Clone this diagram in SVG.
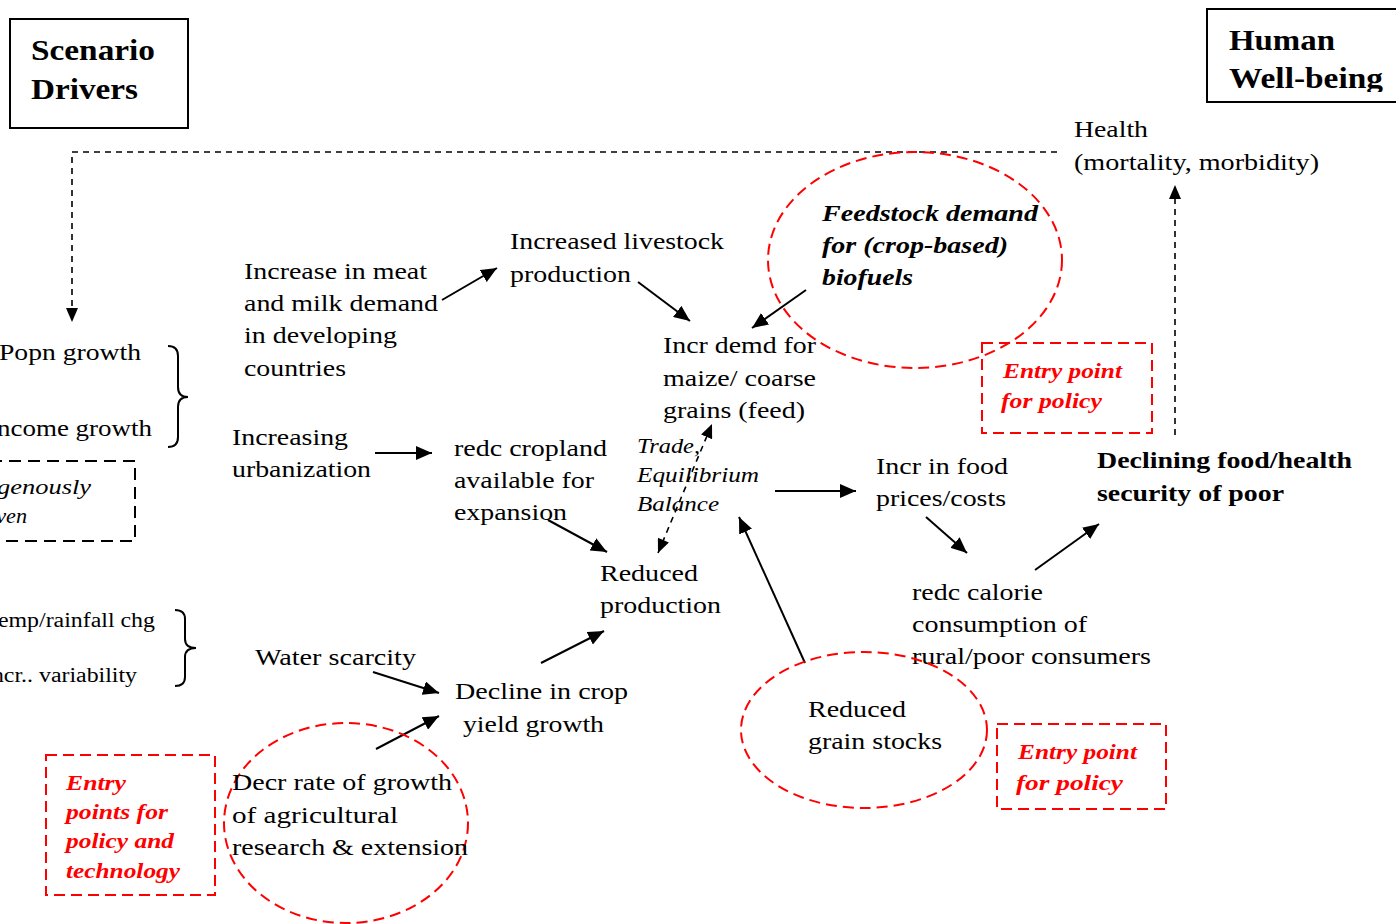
<svg xmlns="http://www.w3.org/2000/svg" width="1396" height="924" viewBox="0 0 1396 924">
<style>
text{font-family:"Liberation Serif","Times New Roman",serif;fill:#000}
.b{font-size:24px}
.h{font-size:29px;font-weight:bold}
.bb{font-size:24px;font-weight:bold}
.fi{font-size:24px;font-weight:bold;font-style:italic}
.ti{font-size:21px;font-style:italic}
.ri{font-size:22px;font-weight:bold;font-style:italic;fill:#ff0000}
.sm{font-size:20px}
.ei{font-size:20px;font-style:italic}
.frame{fill:none;stroke:#000;stroke-width:2}
.rd{fill:none;stroke:#ff0000;stroke-width:2;stroke-dasharray:11 6}
.kd{fill:none;stroke:#000;stroke-width:2;stroke-dasharray:12 7}
.c{fill:none;stroke:#000;stroke-width:2;marker-end:url(#ah)}
.cd{fill:none;stroke:#000;stroke-width:1.6;stroke-dasharray:6 5;marker-end:url(#ahs)}
.br{fill:none;stroke:#000;stroke-width:2}
</style>
<defs>
<marker id="ah" markerUnits="userSpaceOnUse" markerWidth="18" markerHeight="14" refX="16" refY="7" orient="auto"><path d="M0,0 L16,7 L0,14 Z" fill="#000"/></marker>
<marker id="ahs" markerUnits="userSpaceOnUse" markerWidth="16" markerHeight="12" refX="14" refY="6" orient="auto"><path d="M0,0 L14,6 L0,12 Z" fill="#000"/></marker>
<marker id="ahsr" markerUnits="userSpaceOnUse" markerWidth="16" markerHeight="12" refX="0" refY="6" orient="auto"><path d="M14,0 L0,6 L14,12 Z" fill="#000"/></marker>
<clipPath id="hwclip"><rect x="1207" y="9" width="189" height="83"/></clipPath>
</defs>
<rect width="1396" height="924" fill="#fff"/>

<g id="connectors">
<path class="c" d="M442,300 L497,268"/>
<path class="c" d="M638,282 L690,321"/>
<path class="c" d="M806,290 L752,328"/>
<path class="c" d="M375,453 L432,453"/>
<path class="c" d="M548,520 L607,552"/>
<path class="c" d="M541,663 L604,631"/>
<path class="c" d="M373,672 L439,693"/>
<path class="c" d="M376,749 L439,716"/>
<path class="c" d="M805,663 L739,517"/>
<path class="c" d="M775,491 L856,491"/>
<path class="c" d="M926,517 L967,553"/>
<path class="c" d="M1035,570 L1099,524"/>
<path class="cd" d="M1175,435 L1175,185"/>
<path class="cd" d="M1057,152 L72,152 L72,322"/>
<path class="cd" d="M658,553 L712,424" style="marker-start:url(#ahsr)"/>
</g>

<g id="scenario-drivers">
<rect class="frame" x="10" y="19" width="178" height="109"/>
<text class="h" x="31" y="60" textLength="124" lengthAdjust="spacingAndGlyphs">Scenario</text>
<text class="h" x="31" y="99" textLength="107" lengthAdjust="spacingAndGlyphs">Drivers</text>
</g>

<g id="human-wellbeing">
<rect class="frame" x="1207" y="9" width="200" height="93"/>
<text class="h" x="1229" y="50" textLength="106" lengthAdjust="spacingAndGlyphs">Human</text>
<text class="h" x="1229" y="88" textLength="154" lengthAdjust="spacingAndGlyphs" clip-path="url(#hwclip)">Well-being</text>
</g>

<g id="health">
<text class="b" x="1074" y="137" textLength="74" lengthAdjust="spacingAndGlyphs">Health</text>
<text class="b" x="1074" y="170" textLength="245" lengthAdjust="spacingAndGlyphs">(mortality, morbidity)</text>
</g>

<g id="meat-milk">
<text class="b" x="244" y="279" textLength="183" lengthAdjust="spacingAndGlyphs">Increase in meat</text>
<text class="b" x="244" y="311" textLength="194" lengthAdjust="spacingAndGlyphs">and milk demand</text>
<text class="b" x="244" y="343" textLength="153" lengthAdjust="spacingAndGlyphs">in developing</text>
<text class="b" x="244" y="376" textLength="102" lengthAdjust="spacingAndGlyphs">countries</text>
</g>

<g id="livestock">
<text class="b" x="510" y="249" textLength="214" lengthAdjust="spacingAndGlyphs">Increased livestock</text>
<text class="b" x="510" y="282" textLength="121" lengthAdjust="spacingAndGlyphs">production</text>
</g>

<g id="feedstock">
<ellipse class="rd" cx="915" cy="260" rx="147" ry="108"/>
<text class="fi" x="822" y="221" textLength="216" lengthAdjust="spacingAndGlyphs">Feedstock demand</text>
<text class="fi" x="822" y="253" textLength="186" lengthAdjust="spacingAndGlyphs">for (crop-based)</text>
<text class="fi" x="822" y="285" textLength="91" lengthAdjust="spacingAndGlyphs">biofuels</text>
</g>

<g id="incr-demd">
<text class="b" x="663" y="353" textLength="153" lengthAdjust="spacingAndGlyphs">Incr demd for</text>
<text class="b" x="663" y="386" textLength="153" lengthAdjust="spacingAndGlyphs">maize/ coarse</text>
<text class="b" x="663" y="418" textLength="142" lengthAdjust="spacingAndGlyphs">grains (feed)</text>
</g>

<g id="entry-point-1">
<rect class="rd" x="982" y="343" width="170" height="90"/>
<text class="ri" x="1003" y="378" textLength="119" lengthAdjust="spacingAndGlyphs">Entry point</text>
<text class="ri" x="1001" y="408" textLength="101" lengthAdjust="spacingAndGlyphs">for policy</text>
</g>

<g id="popn-income">
<text class="b" x="-1" y="360" textLength="142" lengthAdjust="spacingAndGlyphs">Popn growth</text>
<text class="b" x="-12" y="436" textLength="164" lengthAdjust="spacingAndGlyphs">Income growth</text>
<path class="br" d="M168,346 Q178,346 178,356 L178,387 Q178,397 188,397 Q178,397 178,407 L178,437 Q178,447 168,447"/>
</g>

<g id="exogenous">
<rect class="kd" x="-10" y="461" width="145" height="80"/>
<text class="ei" x="-44" y="494" textLength="135" lengthAdjust="spacingAndGlyphs">Exogenously</text>
<text class="ei" x="-21" y="523" textLength="48" lengthAdjust="spacingAndGlyphs">given</text>
</g>

<g id="urbanization">
<text class="b" x="232" y="445" textLength="116" lengthAdjust="spacingAndGlyphs">Increasing</text>
<text class="b" x="232" y="477" textLength="139" lengthAdjust="spacingAndGlyphs">urbanization</text>
</g>

<g id="cropland">
<text class="b" x="454" y="456" textLength="153" lengthAdjust="spacingAndGlyphs">redc cropland</text>
<text class="b" x="454" y="488" textLength="140" lengthAdjust="spacingAndGlyphs">available for</text>
<text class="b" x="454" y="520" textLength="113" lengthAdjust="spacingAndGlyphs">expansion</text>
</g>

<g id="trade">
<text class="ti" x="637" y="453" textLength="63" lengthAdjust="spacingAndGlyphs">Trade,</text>
<text class="ti" x="637" y="482" textLength="122" lengthAdjust="spacingAndGlyphs">Equilibrium</text>
<text class="ti" x="637" y="511" textLength="82" lengthAdjust="spacingAndGlyphs">Balance</text>
</g>

<g id="food-prices">
<text class="b" x="876" y="474" textLength="132" lengthAdjust="spacingAndGlyphs">Incr in food</text>
<text class="b" x="876" y="506" textLength="130" lengthAdjust="spacingAndGlyphs">prices/costs</text>
</g>

<g id="declining">
<text class="bb" x="1097" y="468" textLength="255" lengthAdjust="spacingAndGlyphs">Declining food/health</text>
<text class="bb" x="1097" y="501" textLength="187" lengthAdjust="spacingAndGlyphs">security of poor</text>
</g>

<g id="calorie">
<text class="b" x="912" y="600" textLength="131" lengthAdjust="spacingAndGlyphs">redc calorie</text>
<text class="b" x="912" y="632" textLength="175" lengthAdjust="spacingAndGlyphs">consumption of</text>
<text class="b" x="912" y="664" textLength="239" lengthAdjust="spacingAndGlyphs">rural/poor consumers</text>
</g>

<g id="reduced-production">
<text class="b" x="600" y="581" textLength="98" lengthAdjust="spacingAndGlyphs">Reduced</text>
<text class="b" x="600" y="613" textLength="121" lengthAdjust="spacingAndGlyphs">production</text>
</g>

<g id="climate">
<text class="sm" x="-15" y="627" textLength="170" lengthAdjust="spacingAndGlyphs">Temp/rainfall chg</text>
<text class="sm" x="-16" y="682" textLength="153" lengthAdjust="spacingAndGlyphs">Incr.. variability</text>
<path class="br" d="M175,610 Q185,610 185,619 L185,639 Q185,648 196,648 Q185,648 185,657 L185,677 Q185,686 175,686"/>
</g>

<g id="water">
<text class="b" x="255" y="665" textLength="161" lengthAdjust="spacingAndGlyphs">Water scarcity</text>
</g>

<g id="decline-yield">
<text class="b" x="455" y="699" textLength="173" lengthAdjust="spacingAndGlyphs">Decline in crop</text>
<text class="b" x="463" y="732" textLength="141" lengthAdjust="spacingAndGlyphs">yield growth</text>
</g>

<g id="research">
<ellipse class="rd" cx="346" cy="823" rx="122" ry="100"/>
<text class="b" x="232" y="790" textLength="220" lengthAdjust="spacingAndGlyphs">Decr rate of growth</text>
<text class="b" x="232" y="823" textLength="166" lengthAdjust="spacingAndGlyphs">of  agricultural</text>
<text class="b" x="232" y="855" textLength="236" lengthAdjust="spacingAndGlyphs">research &amp; extension</text>
</g>

<g id="entry-points-tech">
<rect class="rd" x="46" y="755" width="169" height="140"/>
<text class="ri" x="66" y="790" textLength="60" lengthAdjust="spacingAndGlyphs">Entry</text>
<text class="ri" x="66" y="819" textLength="102" lengthAdjust="spacingAndGlyphs">points for</text>
<text class="ri" x="66" y="848" textLength="108" lengthAdjust="spacingAndGlyphs">policy and</text>
<text class="ri" x="66" y="878" textLength="114" lengthAdjust="spacingAndGlyphs">technology</text>
</g>

<g id="grain-stocks">
<ellipse class="rd" cx="864" cy="730" rx="123" ry="78"/>
<text class="b" x="808" y="717" textLength="98" lengthAdjust="spacingAndGlyphs">Reduced</text>
<text class="b" x="808" y="749" textLength="134" lengthAdjust="spacingAndGlyphs">grain stocks</text>
</g>

<g id="entry-point-2">
<rect class="rd" x="997" y="724" width="169" height="85"/>
<text class="ri" x="1018" y="759" textLength="119" lengthAdjust="spacingAndGlyphs">Entry point</text>
<text class="ri" x="1016" y="790" textLength="107" lengthAdjust="spacingAndGlyphs">for  policy</text>
</g>
</svg>
